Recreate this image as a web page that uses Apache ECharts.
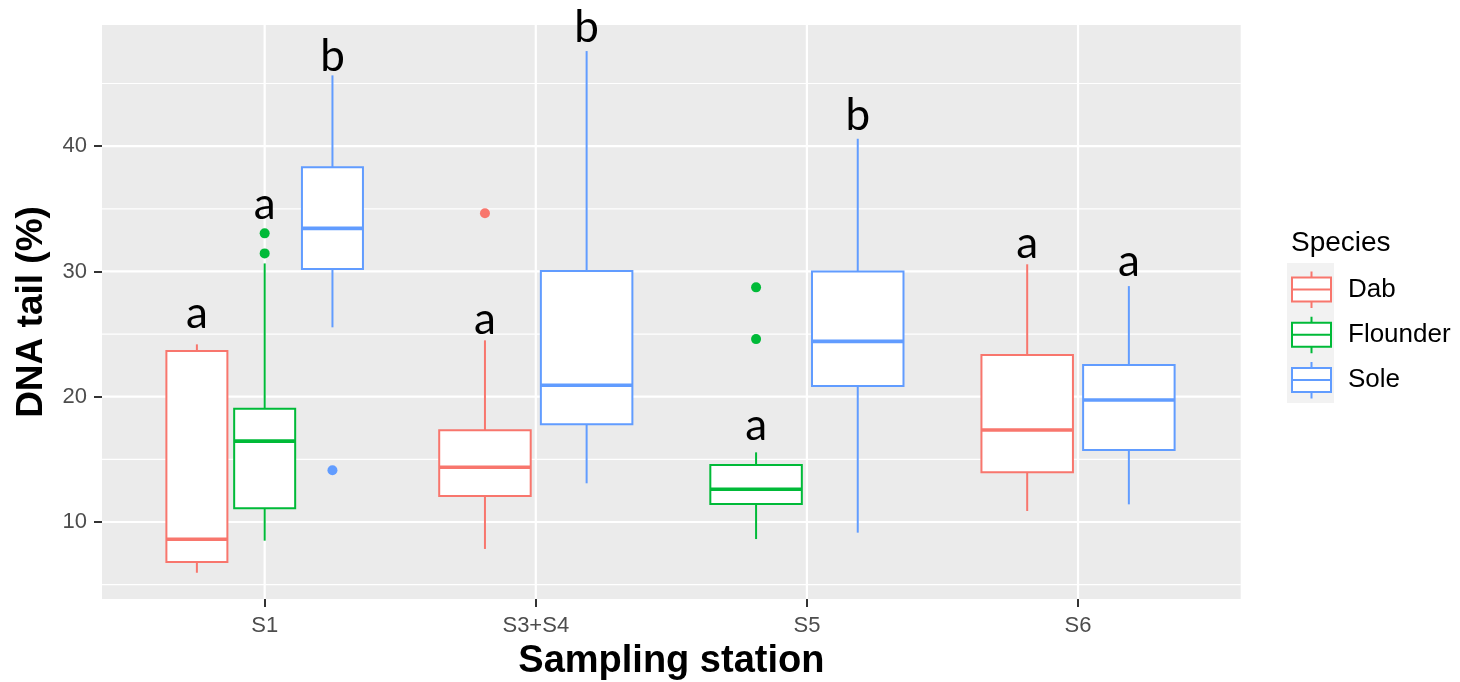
<!DOCTYPE html>
<html>
<head>
<meta charset="utf-8">
<script src="https://cdn.jsdelivr.net/npm/echarts@6/dist/echarts.min.js"></script>
<style>
  html, body { margin: 0; padding: 0; background: #fff; }
  #chart { width: 1460px; height: 682px; }
</style>
</head>
<body>
<div id="chart"></div>
<script>
// ---------------- data ----------------
const categories = ['S1', 'S3+S4', 'S5', 'S6'];
const speciesNames = ['Dab', 'Flounder', 'Sole'];
const speciesColors = ['#F8766D', '#00BA38', '#619CFF'];

// per station: [lower whisker, Q1, median, Q3, upper whisker] (null = species not sampled)
const dabStats      = [[5.95, 6.81, 8.62, 23.65, 24.18], [7.85, 12.07, 14.37, 17.32, 24.5], null, [10.88, 13.97, 17.34, 23.33, 30.57]];
const flounderStats = [[8.51, 11.09, 16.46, 19.04, 30.64], null, [8.64, 11.44, 12.61, 14.55, 15.56], null];
const soleStats     = [[25.54, 30.19, 33.44, 38.31, 45.65], [13.09, 17.8, 20.91, 30.03, 47.59], [9.15, 20.85, 24.42, 30.0, 40.59], [11.41, 15.75, 19.74, 22.53, 28.83]];

// outliers per station
const dabOutliers      = [[], [34.64], [], []];
const flounderOutliers = [[33.04, 31.44], [], [28.73, 24.6], []];
const soleOutliers     = [[14.13], [], [], []];

// significance letters and their baseline heights (DNA tail %)
const dabLetters      = ['a', 'a', null, 'a'];
const dabLetterY      = [25.48, 25.06, null, 31.09];
const flounderLetters = ['a', null, 'a', null];
const flounderLetterY = [34.18, null, 16.6, null];
const soleLetters     = ['b', 'b', 'b', 'a'];
const soleLetterY     = [46.0, 48.33, 41.28, 29.69];

const yTickValues  = [10, 20, 30, 40];
const yMinorValues = [5, 15, 25, 35, 45];
const yMin = 3.855, yMax = 49.67;
const xMin = 0.4, xMax = 4.6;

// ---------------- helpers ----------------
const statsBySpecies    = [dabStats, flounderStats, soleStats];
const outliersBySpecies = [dabOutliers, flounderOutliers, soleOutliers];
const lettersBySpecies  = [dabLetters, flounderLetters, soleLetters];
const letterYBySpecies  = [dabLetterY, flounderLetterY, soleLetterY];

function makeBoxRender(s) {
  const color = speciesColors[s];
  return function (params, api) {
    const pos = api.value(0);
    const ci = Math.round(pos) - 1;
    const st = [api.value(1), api.value(2), api.value(3), api.value(4), api.value(5)];
    const present = [0, 1, 2].filter(k => statsBySpecies[k][ci]);
    const n = present.length, k = present.indexOf(s);
    const slot = 0.75 / n;
    const xc = pos - 0.375 + (k + 0.5) * slot;
    const hw = slot * 0.9 / 2;
    const left = api.coord([xc - hw, st[3]]);
    const right = api.coord([xc + hw, st[1]]);
    const cx = api.coord([xc, st[2]])[0];
    const yLow = api.coord([xc, st[0]])[1];
    const yQ1 = right[1];
    const yMed = api.coord([xc, st[2]])[1];
    const yQ3 = left[1];
    const yHigh = api.coord([xc, st[4]])[1];
    const lw = 2;
    const children = [
      { type: 'line', shape: { x1: cx, y1: yQ3, x2: cx, y2: yHigh }, style: { stroke: color, lineWidth: lw } },
      { type: 'line', shape: { x1: cx, y1: yQ1, x2: cx, y2: yLow }, style: { stroke: color, lineWidth: lw } },
      { type: 'rect', shape: { x: left[0], y: yQ3, width: right[0] - left[0], height: yQ1 - yQ3 },
        style: { fill: '#fff', stroke: color, lineWidth: lw } },
      { type: 'line', shape: { x1: left[0], y1: yMed, x2: right[0], y2: yMed }, style: { stroke: color, lineWidth: 3.6 } }
    ];
    outliersBySpecies[s][ci].forEach(v => {
      const p = api.coord([xc, v]);
      children.push({ type: 'circle', shape: { cx: p[0], cy: p[1], r: 5 }, style: { fill: color } });
    });
    const letter = lettersBySpecies[s][ci];
    if (letter) {
      const p = api.coord([xc, letterYBySpecies[s][ci]]);
      children.push({ type: 'text', x: p[0], y: p[1] - 14,
        style: { text: letter, fill: '#000', font: '44px Lato', align: 'center', verticalAlign: 'middle' } });
    }
    return { type: 'group', children: children };
  };
}

const boxSeries = speciesNames.map((name, s) => ({
  name: name,
  type: 'custom',
  z: 3,
  clip: false,
  renderItem: makeBoxRender(s),
  encode: { x: 0, y: [1, 2, 3, 4, 5] },
  data: statsBySpecies[s].map((st, i) => st ? [i + 1].concat(st) : null).filter(Boolean)
}));

const hGridSeries = {
  name: 'hgrid', type: 'custom', z: 1, silent: true,
  renderItem: function (params, api) {
    const cs = params.coordSys;
    const y = api.coord([xMin, api.value(0)])[1];
    return { type: 'line', shape: { x1: cs.x, y1: y, x2: cs.x + cs.width, y2: y },
      style: { stroke: '#fff', lineWidth: api.value(1) ? 2.2 : 1.2 } };
  },
  encode: { y: 0 },
  data: yTickValues.map(v => [v, 1]).concat(yMinorValues.map(v => [v, 0]))
};
const vGridSeries = {
  name: 'vgrid', type: 'custom', z: 1, silent: true,
  renderItem: function (params, api) {
    const cs = params.coordSys;
    const x = api.coord([api.value(0), yMin])[0];
    return { type: 'line', shape: { x1: x, y1: cs.y, x2: x, y2: cs.y + cs.height },
      style: { stroke: '#fff', lineWidth: 2.2 } };
  },
  encode: { x: 0 },
  data: categories.map((c, i) => [i + 1])
};

const chart = echarts.init(document.getElementById('chart'), null, { renderer: 'canvas' });
chart.setOption({
  animation: false,
  backgroundColor: '#fff',
  textStyle: { fontFamily: 'Liberation Sans' },
  title: {
    text: 'Species', left: 1286, top: 224,
    textStyle: { fontSize: 28, fontWeight: 'normal', color: '#000', fontFamily: 'Liberation Sans' }
  },
  legend: {
    orient: 'vertical', left: 1291, top: 270.5, itemWidth: 39, itemHeight: 37, itemGap: 6.6,
    padding: 0,
    selectedMode: false,
    icon: 'path://M19.5,0V6M0,6H39V30H0ZM0,18H39M19.5,30V36.6',
    textStyle: { fontSize: 26, color: '#000', padding: [0, 0, 0, 12], fontFamily: 'Liberation Sans' },
    data: speciesNames.map((n, i) => ({ name: n, itemStyle: { color: '#fff', borderColor: speciesColors[i], borderWidth: 2 } }))
  },
  graphic: [{ type: 'rect', left: 1287, top: 263, shape: { width: 47, height: 140 }, style: { fill: '#F2F2F2' }, z: -1 }],
  grid: { left: 102, right: 219.3, top: 25, bottom: 83, show: true, backgroundColor: '#EBEBEB', borderWidth: 0,
          containLabel: false, outerBoundsMode: 'none' },
  xAxis: {
    type: 'value', min: xMin, max: xMax,
    name: 'Sampling station', nameLocation: 'middle', nameGap: 44,
    nameTextStyle: { fontSize: 38, fontWeight: 'bold', color: '#000', fontFamily: 'Liberation Sans' },
    axisLine: { show: false },
    axisTick: { show: true, customValues: [1, 2, 3, 4], length: 8, lineStyle: { color: '#333', width: 2 } },
    axisLabel: { customValues: [1, 2, 3, 4], formatter: v => categories[Math.round(v) - 1], fontSize: 22, color: '#4D4D4D', margin: 16 },
    splitLine: { show: false }
  },
  yAxis: {
    type: 'value', min: yMin, max: yMax,
    name: 'DNA tail (%)', nameLocation: 'middle', nameGap: 52,
    nameTextStyle: { fontSize: 37, fontWeight: 'bold', color: '#000', fontFamily: 'Liberation Sans' },
    axisLine: { show: false },
    axisTick: { show: true, customValues: yTickValues, length: 8, lineStyle: { color: '#333', width: 2 } },
    axisLabel: { customValues: yTickValues, fontSize: 22, color: '#4D4D4D', margin: 15 },
    splitLine: { show: false }
  },
  series: [hGridSeries, vGridSeries].concat(boxSeries)
});
</script>
</body>
</html>
